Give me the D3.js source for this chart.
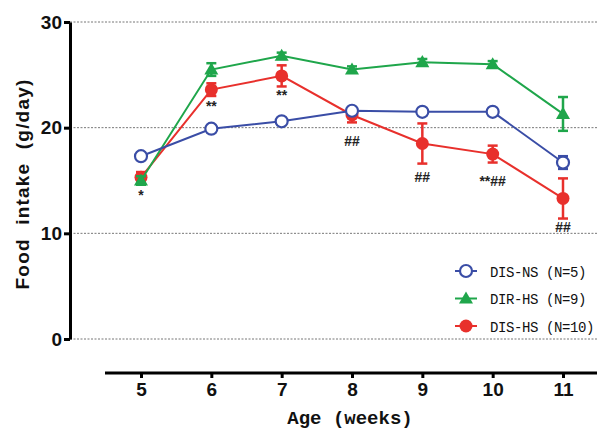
<!DOCTYPE html>
<html>
<head>
<meta charset="utf-8">
<script src="https://cdn.jsdelivr.net/npm/d3@7"></script>
<style>
  body { margin: 0; background: #fff; }
  svg { display: block; }
  .tick text { font-family: "Liberation Sans Narrow", "Liberation Sans", Arial, sans-serif; font-weight: bold; }
</style>
</head>
<body>
<svg id="chart" width="603" height="432"></svg>
<script>
// values
const weeks = [5, 6, 7, 8, 9, 10, 11];
const yTicks = [0, 10, 20, 30];

const disNsMean = [17.3, 19.9, 20.6, 21.6, 21.5, 21.5, 16.7];
const disNsErr  = [0.3, 0.3, 0.3, 0.3, 0.3, 0.3, 0.6];
const dirHsMean = [15.0, 25.5, 26.8, 25.5, 26.2, 26.0, 21.3];
const dirHsErr  = [0.4, 0.6, 0.3, 0.3, 0.3, 0.3, 1.6];
const disHsMean = [15.3, 23.6, 24.9, 21.2, 18.5, 17.5, 13.3];
const disHsErr  = [0.5, 0.6, 1.0, 0.7, 1.9, 0.8, 1.9];
const sigLabels = ['*', '**', '**', '##', '##', '**##', '##'];

const series = [
  { name: 'DIS-HS (N=10)', mean: disHsMean, err: disHsErr, color: '#e8302c', shape: 'dot' },
  { name: 'DIR-HS (N=9)', mean: dirHsMean, err: dirHsErr, color: '#1fa64b', shape: 'tri' },
  { name: 'DIS-NS (N=5)', mean: disNsMean, err: disNsErr, color: '#3a4da6', shape: 'ring' }
];
const legendOrder = [2, 1, 0];

const svg = d3.select('#chart');

const x = d3.scaleLinear().domain([5, 11]).range([141, 563]);
const y = d3.scaleLinear().domain([0, 30]).range([339, 22]);

// grid lines
svg.append('g').selectAll('line').data(yTicks).join('line')
  .attr('x1', 70).attr('x2', 597)
  .attr('y1', d => y(d)).attr('y2', d => y(d))
  .attr('stroke', '#777').attr('stroke-width', 1).attr('stroke-dasharray', '2,1.5');

// y axis
const yAxis = svg.append('g').attr('transform', 'translate(70,0)')
  .call(d3.axisLeft(y).tickValues(yTicks).tickSize(6).tickSizeOuter(0).tickPadding(2));
yAxis.select('.domain').attr('stroke', '#000').attr('stroke-width', 3);
yAxis.selectAll('.tick line').attr('stroke', '#000').attr('stroke-width', 3);
yAxis.selectAll('.tick text').attr('font-size', 19).attr('fill', '#111');

// x axis
const xAxis = svg.append('g').attr('transform', 'translate(0,373)')
  .call(d3.axisBottom(x).tickValues(weeks).tickFormat(d3.format('d')).tickSize(5).tickSizeOuter(0).tickPadding(5));
xAxis.select('.domain').attr('d', 'M105,0H597').attr('stroke', '#000').attr('stroke-width', 3);
xAxis.selectAll('.tick line').attr('stroke', '#000').attr('stroke-width', 3);
xAxis.selectAll('.tick text').attr('font-size', 19).attr('fill', '#111');

// axis titles
svg.append('text')
  .attr('x', 350).attr('y', 424)
  .attr('text-anchor', 'middle')
  .attr('font-family', '"Liberation Mono", monospace').attr('font-weight', 'bold')
  .attr('font-size', 19).attr('fill', '#111')
  .text('Age (weeks)');

svg.append('text')
  .attr('transform', 'translate(29,184) rotate(-90)')
  .attr('text-anchor', 'middle')
  .attr('font-family', '"Liberation Sans", Arial, sans-serif').attr('font-weight', 'bold')
  .attr('font-size', 19).attr('fill', '#111')
  .attr('letter-spacing', 1.2).attr('word-spacing', 7)
  .text('Food intake (g/day)');

const line = d3.line().x((d, i) => x(weeks[i])).y(d => y(d));

function drawMarker(g, s, cx, cy) {
  if (s.shape === 'tri') {
    g.append('path').attr('d', d3.symbol().type(d3.symbolTriangle).size(85)())
      .attr('transform', `translate(${cx},${cy + 1})`).attr('fill', s.color);
  } else if (s.shape === 'dot') {
    g.append('circle').attr('cx', cx).attr('cy', cy).attr('r', 6.5).attr('fill', s.color);
  } else {
    g.append('circle').attr('cx', cx).attr('cy', cy).attr('r', 6)
      .attr('fill', '#fff').attr('stroke', s.color).attr('stroke-width', 2.2);
  }
}

series.forEach(s => {
  const g = svg.append('g');
  g.append('path').datum(s.mean).attr('d', line)
    .attr('fill', 'none').attr('stroke', s.color).attr('stroke-width', 2);
  s.mean.forEach((m, i) => {
    const cx = x(weeks[i]);
    const e = s.err[i];
    const eb = g.append('g').attr('stroke', s.color).attr('stroke-width', 2.5);
    eb.append('line').attr('x1', cx).attr('x2', cx).attr('y1', y(m - e)).attr('y2', y(m + e));
    eb.append('line').attr('x1', cx - 5).attr('x2', cx + 5).attr('y1', y(m - e)).attr('y2', y(m - e));
    eb.append('line').attr('x1', cx - 5).attr('x2', cx + 5).attr('y1', y(m + e)).attr('y2', y(m + e));
    drawMarker(g, s, cx, y(m));
  });
});

// significance marks under DIS-HS points
const sigY = [200, 111, 100, 146, 182, 186, 232];
svg.append('g').selectAll('text').data(sigLabels).join('text')
  .attr('x', (d, i) => x(weeks[i]))
  .attr('y', (d, i) => sigY[i])
  .attr('text-anchor', 'middle')
  .attr('font-family', '"Liberation Sans", Arial, sans-serif').attr('font-weight', 'bold')
  .attr('font-size', 14).attr('fill', '#222')
  .text(d => d);

// legend
const leg = svg.append('g');
legendOrder.forEach((si, k) => {
  const s = series[si];
  const ly = 271 + k * 27.5;
  leg.append('line').attr('x1', 455).attr('x2', 477).attr('y1', ly).attr('y2', ly)
    .attr('stroke', s.color).attr('stroke-width', 2);
  drawMarker(leg, s, 466, ly);
  leg.append('text').attr('x', 490).attr('y', ly + 5.5)
    .attr('font-family', '"Liberation Mono", monospace')
    .attr('font-size', 14).attr('letter-spacing', -0.4).attr('fill', '#111')
    .text(s.name);
});
</script>
</body>
</html>
